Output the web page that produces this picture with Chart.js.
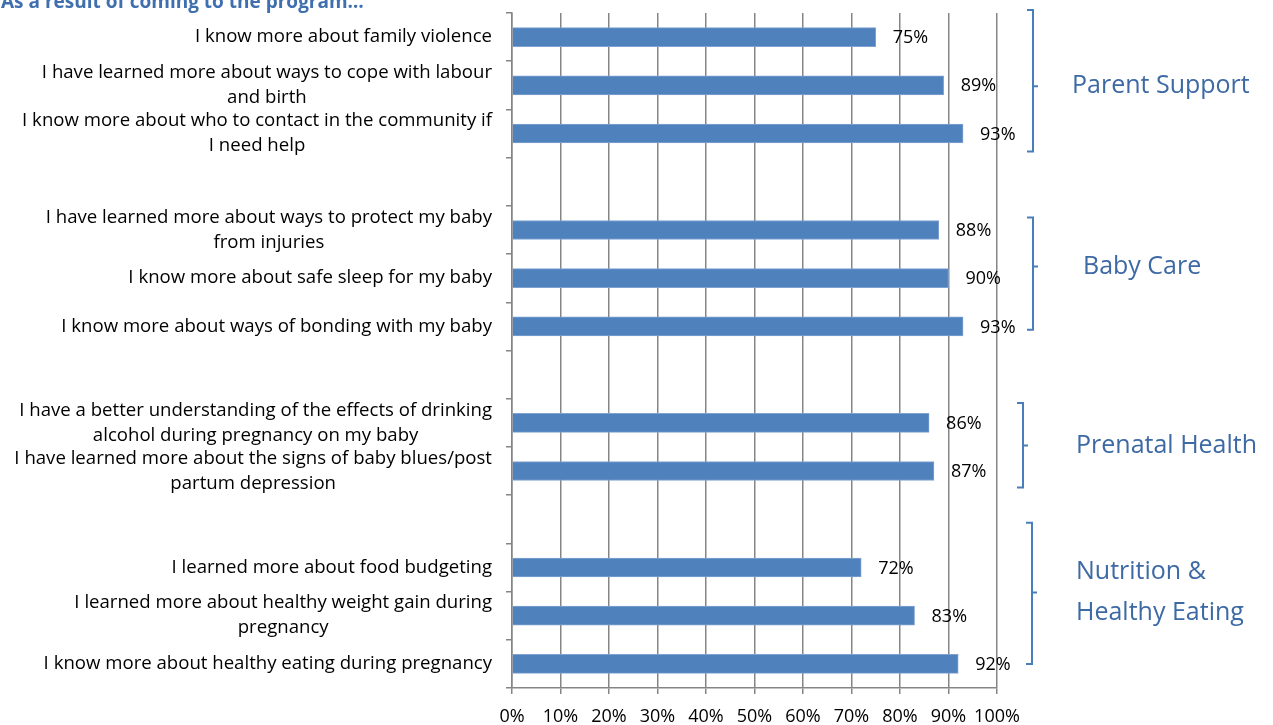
<!DOCTYPE html>
<html>
<head>
<meta charset="utf-8">
<script src="https://cdn.jsdelivr.net/npm/chart.js@4/dist/chart.umd.min.js"></script>
<style>
  body { margin: 0; background: #ffffff; }
  #wrap { position: relative; width: 1273px; height: 725px; overflow: hidden; }
  #titulo {
    position: absolute; left: 1px; top: -12px;
    font: bold 19px "Open Sans", sans-serif; color: #3f6fae;
    white-space: nowrap;
  }
</style>
</head>
<body>
<div id="wrap">
  <canvas id="grafico" width="1273" height="725"></canvas>
  <div id="titulo">As a result of coming to the program…</div>
</div>
<script>
// categorias (de arriba hacia abajo), los huecos vacios separan los grupos
const categorias = [
  "I know more about family violence",
  ["I have learned more about ways to cope with labour", "and birth"],
  ["I know more about who to contact in the community if", "I need help"],
  "",
  ["I have learned more about ways to protect my baby", "from injuries"],
  "I know more about safe sleep for my baby",
  "I know more about ways of bonding with my baby",
  "",
  ["I have a better understanding of the effects of drinking", "alcohol during pregnancy on my baby"],
  ["I have learned more about the signs of baby blues/post", "partum depression"],
  "",
  "I learned more about food budgeting",
  ["I learned more about healthy weight gain during", "pregnancy"],
  "I know more about healthy eating during pregnancy"
]
const porcentajes = [75, 89, 93, null, 88, 90, 93, null, 86, 87, null, 72, 83, 92]
const ticks_x = [0, 10, 20, 30, 40, 50, 60, 70, 80, 90, 100]

// grupos de la derecha (en unidades de categoria)
const grupos = ["Parent Support", "Baby Care", "Prenatal Health", ["Nutrition &", "Healthy Eating"]]
const grupo_inicio = [-0.56, 3.74, 7.59, 10.07]
const grupo_fin = [2.37, 6.07, 9.34, 13.0]
const grupo_medio = [1.02, 4.76, 8.47, 11.52]

const fuente = '"Open Sans", sans-serif'
const azul_grupo = "#3d69a4"
const azul_llave = "#4a7ebb"
const gris = "#858585"
// separacion (px) desde el borde derecho del area del grafico
const llave_x = [36, 36, 26, 35]
const texto_x = [75, 86, 79, 79]

const plugin_etiquetas = {
  id: "etiquetas",
  afterDraw(chart) {
    ctx = chart.ctx
    area = chart.chartArea
    escala_y = chart.scales.y
    escala_x = chart.scales.x
    ctx.save()
    // etiquetas de categoria, bloque alineado a la derecha y lineas centradas
    ctx.font = "18.6px " + fuente
    ctx.fillStyle = "#000000"
    ctx.textAlign = "center"
    ctx.textBaseline = "middle"
    for (i = 0; i < categorias.length; i++) {
      lineas = Array.isArray(categorias[i]) ? categorias[i] : [categorias[i]]
      ancho = 0
      for (j = 0; j < lineas.length; j++) {
        ancho = Math.max(ancho, ctx.measureText(lineas[j]).width)
      }
      cx = area.left - 20 - ancho / 2
      y0 = escala_y.getPixelForValue(i) - (lineas.length - 1) * 12.5
      for (j = 0; j < lineas.length; j++) {
        ctx.fillText(lineas[j], cx, y0 + j * 25)
      }
    }
    // valores al final de cada barra
    ctx.font = "18px " + fuente
    ctx.textAlign = "left"
    for (i = 0; i < porcentajes.length; i++) {
      if (porcentajes[i] == null) continue
      x = escala_x.getPixelForValue(porcentajes[i]) + 17
      y = escala_y.getPixelForValue(i) + 1
      ctx.fillText(`${porcentajes[i]}%`, x, y)
    }
    // llaves y nombres de grupo
    ctx.strokeStyle = azul_llave
    ctx.lineWidth = 2
    for (i = 0; i < grupos.length; i++) {
      lx = area.right + llave_x[i]
      y1 = escala_y.getPixelForValue(grupo_inicio[i])
      y2 = escala_y.getPixelForValue(grupo_fin[i])
      ym = escala_y.getPixelForValue(grupo_medio[i])
      ctx.beginPath()
      ctx.moveTo(lx - 6, y1)
      ctx.lineTo(lx, y1)
      ctx.lineTo(lx, y2)
      ctx.lineTo(lx - 6, y2)
      ctx.moveTo(lx, ym)
      ctx.lineTo(lx + 5, ym)
      ctx.stroke()

      ctx.font = "25px " + fuente
      ctx.fillStyle = azul_grupo
      lineas = Array.isArray(grupos[i]) ? grupos[i] : [grupos[i]]
      y0 = ym - (lineas.length - 1) * 20.5
      for (j = 0; j < lineas.length; j++) {
        ctx.fillText(lineas[j], area.right + texto_x[i], y0 + j * 41)
      }
    }
    ctx.restore()
  }
}

function crear_grafico() {
  lienzo = document.querySelector("#grafico")
  new Chart(lienzo, {
    type: "bar",
    data: {
      labels: categorias.map((c, i) => i),
      datasets: [{
        data: porcentajes,
        backgroundColor: "#4f81bd",
        borderColor: "#7ea3d2",
        borderWidth: 1,
        barThickness: 19,
      }]
    },
    options: {
      indexAxis: "y",
      responsive: false,
      animation: false,
      layout: { padding: { top: 13, right: 276, bottom: 0, left: 0 } },
      plugins: {
        legend: { display: false },
        tooltip: { enabled: false },
      },
      scales: {
        x: {
          min: 0,
          max: 100,
          afterBuildTicks: (escala) => { escala.ticks = ticks_x.map(v => ({ value: v })) },
          afterFit: (escala) => { escala.height = 37 },
          ticks: {
            callback: (v) => `${v}%`,
            color: "#000000",
            font: { family: fuente, size: 18 },
            padding: 12,
            maxRotation: 0,
            autoSkip: false,
          },
          grid: { color: gris, lineWidth: 1.5, tickLength: 6 },
          border: { color: gris, width: 1.5 },
        },
        y: {
          afterFit: (escala) => { escala.width = 512 },
          ticks: { display: false },
          grid: { drawOnChartArea: false, color: gris, lineWidth: 1.5, tickLength: 6, offset: true },
          border: { color: gris, width: 1.5 },
        }
      }
    },
    plugins: [plugin_etiquetas]
  })
}

crear_grafico()
</script>
</body>
</html>
